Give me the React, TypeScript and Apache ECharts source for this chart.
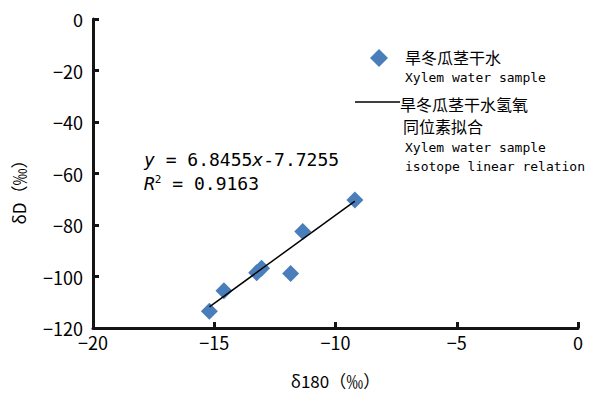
import React, { useEffect, useRef } from "react";
import * as echarts from "echarts";

const xValues = [-15.2, -14.6, -13.25, -13.05, -11.85, -11.35, -9.2];
const yValues = [-113.5, -105.5, -98.5, -96.8, -98.8, -82.5, -70.3];
const slope = 6.8455;
const intercept = -7.7255;
const xTicks = [-20, -15, -10, -5, 0];
const yTicks = [0, -20, -40, -60, -80, -100, -120];

const fitX = [Math.min(...xValues), Math.max(...xValues)];
const fitLine = fitX.map((x) => [x, slope * x + intercept]);

const CJK = '"Noto Sans CJK SC", "Noto Sans", sans-serif';
const MONO = '"DejaVu Sans Mono", "Liberation Mono", monospace';
const BLUE = "#4a7ebb";
const AX = "#141414";

const fmt = (v: number) => String(v).replace("-", "\u2212");

export default function App() {
  const ref = useRef<HTMLDivElement>(null);
  useEffect(() => {
    if (!ref.current) return;
    const chart = echarts.init(ref.current, undefined, { renderer: "svg" });
    chart.setOption({
      animation: false,
      grid: { left: 93, right: 14, top: 19, bottom: 66 },
      xAxis: {
        type: "value",
        min: xTicks[0],
        max: xTicks[xTicks.length - 1],
        interval: 5,
        name: "δ180（‰）",
        nameLocation: "middle",
        nameGap: 44,
        nameTextStyle: { fontFamily: CJK, fontSize: 17, color: "#000" },
        axisLine: { show: true, onZero: false, lineStyle: { color: AX, width: 3 } },
        axisTick: { show: true, inside: true, length: 6, lineStyle: { color: AX, width: 3 } },
        axisLabel: { fontFamily: CJK, fontSize: 18, color: "#000", margin: 5, formatter: fmt },
        splitLine: { show: false },
      },
      yAxis: {
        type: "value",
        min: yTicks[yTicks.length - 1],
        max: yTicks[0],
        interval: 20,
        axisLine: { show: true, onZero: false, lineStyle: { color: AX, width: 3 } },
        axisTick: { show: true, inside: true, length: 6, lineStyle: { color: AX, width: 3 } },
        axisLabel: { fontFamily: CJK, fontSize: 18, color: "#000", margin: 10, formatter: fmt },
        splitLine: { show: false },
      },
      series: [
        {
          type: "scatter",
          data: xValues.map((x, i) => [x, yValues[i]]),
          symbol: "diamond",
          symbolSize: 17,
          itemStyle: { color: BLUE, opacity: 1 },
        },
        {
          type: "line",
          data: fitLine,
          symbol: "none",
          lineStyle: { color: "#000", width: 1.5 },
        },
      ],
      graphic: [
        {
          type: "text",
          x: 18,
          y: 188,
          rotation: Math.PI / 2,
          style: {
            text: "δD（‰）",
            fontFamily: CJK,
            fontSize: 17,
            fill: "#000",
            align: "center",
            verticalAlign: "middle",
          },
        },
        {
          type: "text",
          x: 144,
          y: 159,
          style: {
            text: "{i|y} = 6.8455{i|x}-7.7255",
            fontFamily: MONO,
            fontSize: 18,
            fill: "#000",
            verticalAlign: "middle",
            rich: { i: { fontStyle: "italic", fontSize: 18, fontFamily: MONO } },
          },
        },
        {
          type: "text",
          x: 144,
          y: 183,
          style: {
            text: "{i|R}{s|2} = 0.9163",
            fontFamily: MONO,
            fontSize: 18,
            fill: "#000",
            verticalAlign: "middle",
            rich: {
              i: { fontStyle: "italic", fontSize: 18, fontFamily: MONO },
              s: { fontSize: 11, fontFamily: MONO, verticalAlign: "top", padding: [0, 0, 7, 0] },
            },
          },
        },
        {
          type: "polygon",
          shape: { points: [[379, 49], [388, 58], [379, 67], [370, 58]] },
          style: { fill: BLUE },
        },
        {
          type: "text",
          x: 405,
          y: 57,
          style: { text: "旱冬瓜茎干水", fontFamily: CJK, fontSize: 16, fill: "#000", verticalAlign: "middle" },
        },
        {
          type: "text",
          x: 405,
          y: 77,
          style: { text: "Xylem water sample", fontFamily: MONO, fontSize: 13, fill: "#000", verticalAlign: "middle" },
        },
        {
          type: "line",
          shape: { x1: 355, y1: 102, x2: 400, y2: 102 },
          style: { stroke: "#000", lineWidth: 1.5 },
        },
        {
          type: "text",
          x: 400,
          y: 104,
          style: { text: "旱冬瓜茎干水氢氧", fontFamily: CJK, fontSize: 16, fill: "#000", verticalAlign: "middle" },
        },
        {
          type: "text",
          x: 403,
          y: 126,
          style: { text: "同位素拟合", fontFamily: CJK, fontSize: 16, fill: "#000", verticalAlign: "middle" },
        },
        {
          type: "text",
          x: 405,
          y: 147,
          style: { text: "Xylem water sample", fontFamily: MONO, fontSize: 13, fill: "#000", verticalAlign: "middle" },
        },
        {
          type: "text",
          x: 405,
          y: 166,
          style: { text: "isotope linear relation", fontFamily: MONO, fontSize: 13, fill: "#000", verticalAlign: "middle" },
        },
      ],
    });
    return () => chart.dispose();
  }, []);
  return <div ref={ref} style={{ width: 592, height: 394, position: "absolute", left: 0, top: 0 }} />;
}
